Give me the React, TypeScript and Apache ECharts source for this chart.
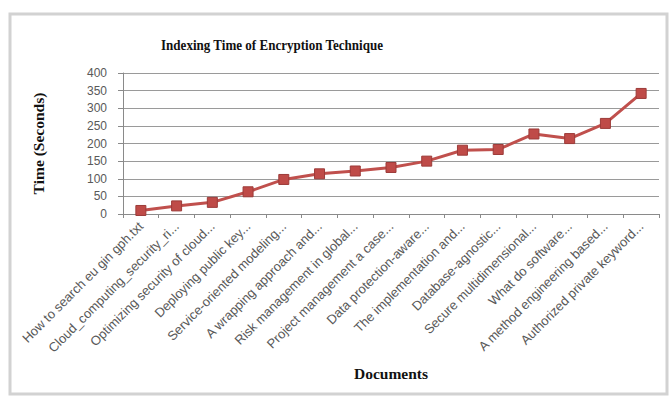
import React, { useEffect, useRef } from "react";
import * as echarts from "echarts";

const categories: string[] = [
  "How to search eu gin gph.txt",
  "Cloud_computing_security_ri...",
  "Optimizing security of cloud...",
  "Deploying public key...",
  "Service-oriented modeling...",
  "A wrapping approach and...",
  "Risk management in global...",
  "Project management a case...",
  "Data protection-aware...",
  "The implementation and...",
  "Database-agnostic...",
  "Secure multidimensional...",
  "What do software...",
  "A method engineering based...",
  "Authorized private keyword...",
];

const timeSeconds: number[] = [10, 23, 33, 63, 98, 114, 122, 132, 150, 181, 183, 227, 214, 257, 342];

const titleText = "Indexing Time of Encryption Technique";
const yAxisTitle = "Time (Seconds)";
const xAxisTitle = "Documents";

export default function App() {
  const ref = useRef<HTMLDivElement>(null);
  useEffect(() => {
    document.body.style.margin = "0";
    const chart = echarts.init(ref.current!, null, { renderer: "svg" });
    chart.setOption({
      animation: false,
      backgroundColor: "#ffffff",
      graphic: [
        {
          type: "rect",
          shape: { x: 10, y: 14, width: 657, height: 380 },
          style: { fill: "none", stroke: "#d2d2d2", lineWidth: 3 },
          silent: true,
        },
        {
          type: "text",
          x: 272,
          y: 45,
          scaleX: 0.9,
          style: {
            text: titleText,
            font: "bold 14.5px 'Liberation Serif', serif",
            fill: "#111111",
            textAlign: "center",
            textVerticalAlign: "middle",
          },
        },
      ],
      grid: { left: 123, right: 12, top: 73, bottom: 182, containLabel: false },
      xAxis: {
        type: "category",
        data: categories,
        boundaryGap: true,
        name: xAxisTitle,
        nameLocation: "middle",
        nameGap: 151,
        nameTextStyle: {
          fontFamily: "'Liberation Serif', serif",
          fontWeight: "bold",
          fontSize: 15.5,
          color: "#111111",
        },
        axisLine: { show: true, lineStyle: { color: "#8a8a8a", width: 1 } },
        axisTick: { show: true, alignWithLabel: false, length: 4, lineStyle: { color: "#8a8a8a" } },
        axisLabel: {
          interval: 0,
          rotate: 45,
          fontSize: 13,
          fontFamily: "'Liberation Sans', sans-serif",
          color: "#595959",
          margin: 10,
        },
        splitLine: { show: false },
      },
      yAxis: {
        type: "value",
        min: 0,
        max: 400,
        interval: 50,
        name: yAxisTitle,
        nameLocation: "middle",
        nameGap: 77,
        nameRotate: 90,
        nameTextStyle: {
          fontFamily: "'Liberation Serif', serif",
          fontWeight: "bold",
          fontSize: 15.5,
          color: "#111111",
        },
        axisLine: { show: true, lineStyle: { color: "#8a8a8a", width: 1 } },
        axisTick: { show: true, length: 5, lineStyle: { color: "#8a8a8a" } },
        axisLabel: {
          fontSize: 12,
          fontFamily: "'Liberation Sans', sans-serif",
          color: "#595959",
          margin: 16,
        },
        splitLine: { show: true, lineStyle: { color: "#9a9a9a", width: 1 } },
      },
      series: [
        {
          type: "line",
          data: timeSeconds,
          symbol: "rect",
          symbolSize: 10,
          lineStyle: { color: "#c0504d", width: 3 },
          itemStyle: { color: "#bf4b48", borderColor: "#9c3b39", borderWidth: 1 },
        },
      ],
    });
    return () => chart.dispose();
  }, []);
  return <div ref={ref} style={{ width: 671, height: 396 }} />;
}
